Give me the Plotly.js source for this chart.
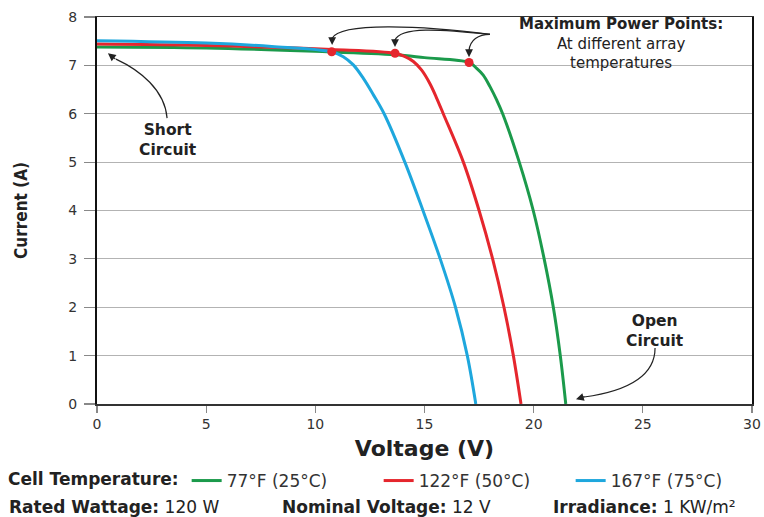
<!DOCTYPE html>
<html>
<head>
<meta charset="utf-8">
<script src="https://cdn.plot.ly/plotly-3.0.1.min.js"></script>
<style>html,body{margin:0;padding:0;background:#fff;}#chart{width:764px;height:517px;}</style>
</head>
<body>
<div id="chart"></div>
<script>
// ---- data ----
var seriesNames = ['77°F (25°C)', '122°F (50°C)', '167°F (75°C)'];
var v25 = [0, 5, 10, 13.65, 15, 17.04, 17.39, 17.69, 18.0, 18.31, 18.58, 19.34, 19.98, 20.48, 20.9, 21.22, 21.47];
var i25 = [7.38, 7.36, 7.29, 7.22, 7.16, 7.06, 6.94, 6.8, 6.56, 6.28, 6.0, 5.0, 4.0, 3.0, 2.0, 1.0, 0];
var v50 = [0, 5, 10.75, 13.65, 14.11, 14.49, 14.87, 15.25, 15.56, 15.86, 16.78, 17.5, 18.12, 18.64, 19.07, 19.42];
var i50 = [7.44, 7.41, 7.33, 7.25, 7.18, 7.08, 6.9, 6.62, 6.32, 6.0, 5.0, 4.0, 3.0, 2.0, 1.0, 0];
var v75 = [0, 5, 8, 10.75, 11.28, 11.74, 12.2, 12.66, 13.15, 14.1, 14.93, 15.72, 16.42, 16.96, 17.35];
var i75 = [7.51, 7.46, 7.39, 7.28, 7.18, 7.01, 6.73, 6.39, 6.0, 5.0, 4.0, 3.0, 2.0, 1.0, 0];
var mppV = [17.04, 13.65, 10.75];
var mppI = [7.06, 7.25, 7.28];
var xTicks = [0, 5, 10, 15, 20, 25, 30];
var yTicks = [0, 1, 2, 3, 4, 5, 6, 7, 8];

// ---- style ----
var GREEN = '#1b9a4b', RED = '#e5262d', BLUE = '#1ea7dd';
var F = 'DejaVu Sans, Liberation Sans, sans-serif';
var L = 97, R = 752, T = 17, B = 404, W = 764, H = 517;
function px(x){ return (x - L) / (R - L); }
function py(y){ return (B - y) / (B - T); }

function curve(v, i, name, color){
  return {x: v, y: i, name: name, type: 'scatter', mode: 'lines',
    line: {color: color, width: 3, shape: 'spline', smoothing: 1}, hoverinfo: 'skip'};
}
var traces = [
  curve(v25, i25, seriesNames[0], GREEN),
  curve(v50, i50, seriesNames[1], RED),
  curve(v75, i75, seriesNames[2], BLUE),
  {x: mppV, y: mppI, type: 'scatter', mode: 'markers', showlegend: false,
   marker: {color: RED, size: 9, line: {width: 0}}, hoverinfo: 'skip'}
];

var arrowPaths = [
  'M 18.0,7.64 C 14.8,7.83 11.13,7.89 10.77,7.56',
  'M 18.0,7.64 C 15.71,7.75 13.88,7.81 13.65,7.52',
  'M 18.0,7.64 C 17.45,7.64 17.09,7.52 17.04,7.31',
  'M 3.21,5.91 C 3.11,6.49 1.97,6.90 0.87,7.13',
  'M 25.56,1.16 C 25.56,0.50 23.96,0.25 22.31,0.145'
];
var shapes = arrowPaths.map(function(p){
  return {type: 'path', xref: 'x', yref: 'y', path: p, line: {color: '#222', width: 1.2}, layer: 'above'};
});

function head(x, y, ax, ay){
  return {x: x, y: y, xref: 'x', yref: 'y', ax: ax, ay: ay, text: '', showarrow: true,
    arrowhead: 2, arrowsize: 1.3, arrowwidth: 1.2, arrowcolor: '#222', standoff: 0};
}
function txt(x, y, t, size, anchor){
  return {x: px(x), y: py(y), xref: 'paper', yref: 'paper', text: t, showarrow: false,
    xanchor: anchor || 'center', yanchor: 'middle', font: {family: F, size: size || 14, color: '#222'}};
}
var annotations = [
  head(10.77, 7.42, 0, -9),
  head(13.65, 7.38, 0, -9),
  head(17.04, 7.17, 0, -9),
  head(0.50, 7.25, 9, 7),
  head(21.94, 0.10, 10, -3),
  txt(621, 43, '<b>Maximum Power Points:</b><br>At different array<br>temperatures', 15),
  txt(168, 140, '<b>Short<br>Circuit</b>', 15.5),
  txt(655, 331, '<b>Open<br>Circuit</b>', 15.5),
  txt(7, 507, '<b>Rated Wattage:</b> 120 W', 17, 'left'),
  txt(280, 507, '<b>Nominal Voltage:</b> 12 V', 17, 'left'),
  txt(551, 507, '<b>Irradiance:</b> 1 KW/m²', 17, 'left')
];

var layout = {
  width: W, height: H,
  margin: {l: L, r: W - R, t: T, b: H - B, pad: 0, autoexpand: false},
  paper_bgcolor: '#fff', plot_bgcolor: '#fff',
  font: {family: F, color: '#333', size: 14},
  showlegend: true,
  legend: {orientation: 'h', x: px(6), y: py(481), xanchor: 'left', yanchor: 'middle',
    title: {text: '<b>Cell Temperature:</b>', side: 'left', font: {family: F, size: 17, color: '#222'}},
    font: {family: F, size: 17, color: '#333'}, entrywidth: 147, entrywidthmode: 'pixels',
    bgcolor: 'rgba(0,0,0,0)', borderwidth: 0, tracegroupgap: 0},
  xaxis: {range: [0, 30], tickvals: xTicks, ticktext: xTicks.map(String), automargin: false,
    showgrid: false, zeroline: false, showline: true, linecolor: '#333', linewidth: 1.5, mirror: true,
    ticks: 'outside', ticklen: 7, tickcolor: '#888', tickwidth: 1.2,
    tickfont: {family: F, size: 14, color: '#333'},
    title: {text: '<b>Voltage (V)</b>', font: {family: F, size: 22, color: '#222'}, standoff: 9}},
  yaxis: {range: [0, 8], tickvals: yTicks, ticktext: yTicks.map(String), automargin: false,
    showgrid: true, gridcolor: '#b3b3b3', gridwidth: 1.2, zeroline: false,
    showline: true, linecolor: '#111', linewidth: 2, mirror: true,
    ticks: 'outside', ticklen: 11, tickcolor: '#888', tickwidth: 1.2, ticklabelstandoff: 4,
    tickfont: {family: F, size: 14, color: '#333'},
    title: {text: '<b>Current (A)</b>', font: {family: 'DejaVu Sans Condensed, Liberation Sans Narrow, sans-serif', size: 17, color: '#222'}, standoff: 36}},
  shapes: shapes,
  annotations: annotations
};

Plotly.newPlot('chart', traces, layout, {displayModeBar: false, staticPlot: true});
</script>
</body>
</html>
